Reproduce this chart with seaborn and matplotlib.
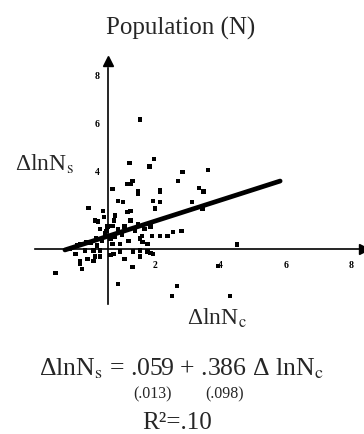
import numpy as np
import pandas as pd
import matplotlib
matplotlib.use("Agg")
import matplotlib.pyplot as plt
import seaborn as sns

# values (change in log population, two regions)
dln_c = [0.154, 0.121, 0.197, 0.182, 0.285, 0.270, 0.362, 0.215, 0.130, 0.124,
         0.148, 0.334, 0.347, 0.069, 0.115, 0.148, 0.215, 0.194, 0.215, 0.200,
         0.087, 0.102, 0.115, 0.124, -0.002, 0.041, 0.017, 0.026, 0.078, 0.032,
         0.053, 0.069, 0.160, 0.191, 0.215, 0.237, 0.255, 0.282, 0.163, 0.176,
         0.344, 0.313, 0.450, 0.392, 0.130, -0.105, -0.023, -0.029, -0.005, 0.017,
         0.087, 0.267, 0.252, 0.429, 0.005, 0.072, 0.093, 0.133, 0.154, 0.176,
         0.194, -0.038, -0.008, 0.023, 0.032, 0.011, 0.047, 0.063, 0.078, 0.087,
         0.099, 0.108, 0.069, 0.038, 0.020, 0.093, 0.118, 0.139, 0.148, 0.124,
         0.056, 0.075, 0.044, 0.154, 0.169, 0.185, -0.060, -0.029, 0.002, -0.014,
         -0.044, 0.032, 0.063, 0.108, 0.154, 0.185, -0.029, 0.011]
dln_s = [0.613, 0.433, 0.450, 0.417, 0.396, 0.358, 0.404, 0.317, 0.358, 0.346,
         0.313, 0.329, 0.313, 0.325, 0.346, 0.304, 0.313, 0.275, 0.271, 0.242,
         0.275, 0.271, 0.229, 0.233, 0.246, 0.233, 0.192, 0.188, 0.213, 0.158,
         0.150, 0.171, 0.129, 0.129, 0.129, 0.129, 0.146, 0.150, 0.104, 0.096,
         0.242, 0.271, 0.092, 0.004, 0.000, -0.025, -0.008, 0.025, 0.033, 0.042,
         -0.071, -0.079, -0.121, -0.121, -0.229, 0.054, 0.063, 0.063, 0.067, 0.063,
         0.054, 0.088, 0.104, 0.088, 0.067, 0.067, 0.138, 0.117, 0.125, 0.158,
         0.133, 0.167, 0.096, 0.108, 0.117, 0.096, 0.108, 0.150, 0.179, 0.192,
         0.167, 0.192, 0.208, 0.117, 0.158, 0.167, 0.075, 0.092, 0.100, 0.067,
         0.054, 0.042, 0.050, 0.033, 0.042, 0.058, 0.013, 0.025]

# fitted line end points as drawn
fit_x = [-0.075, 0.582]
fit_y = [0.071, 0.358]

x_ticks = [0.2, 0.4, 0.6, 0.8]
x_labels = ["2", "4", "6", "8"]
y_ticks = [0.4, 0.6, 0.8]
y_labels = ["4", "6", "8"]

cross_x = 0.0565
cross_y = 0.075

df = pd.DataFrame({"c": dln_c, "s": dln_s})

sns.set_style("white")
plt.rcParams["font.family"] = ["Liberation Serif", "DejaVu Serif"]
plt.rcParams["mathtext.fontset"] = "stix"

fig = plt.figure(figsize=(3.64, 4.35), dpi=100)
ax = fig.add_axes([30 / 364, 125 / 435, 334 / 364, 248 / 435])

sns.scatterplot(data=df, x="c", y="s", ax=ax, marker="s", s=12, color="black",
                edgecolor="none", linewidth=0)
sns.lineplot(x=fit_x, y=fit_y, ax=ax, color="black", linewidth=3.4)

ax.set_xlim(-0.1817, 0.838)
ax.set_ylim(-0.175, 0.858)

# axes crossing inside the plot
for side in ["top", "right"]:
    ax.spines[side].set_visible(False)
ax.spines["left"].set_position(("data", cross_x))
ax.spines["bottom"].set_position(("data", cross_y))
ax.spines["left"].set_bounds(-0.154, 0.83)
ax.spines["bottom"].set_bounds(-0.166, 0.83)
for side in ["left", "bottom"]:
    ax.spines[side].set_color("black")
    ax.spines[side].set_linewidth(1.2)

ax.plot(cross_x, 1, "^", color="black", markersize=7,
        transform=ax.get_xaxis_transform(), clip_on=False)
ax.plot(1, cross_y, ">", color="black", markersize=7,
        transform=ax.get_yaxis_transform(), clip_on=False)

ax.set_xticks(x_ticks, labels=x_labels)
ax.set_yticks(y_ticks, labels=y_labels)
ax.tick_params(axis="x", direction="out", length=7, width=1.2, pad=1,
               labelsize=7, colors="black")
ax.tick_params(axis="y", direction="out", length=4, width=1.2, pad=2,
               labelsize=7, colors="black")
for lab in ax.get_xticklabels() + ax.get_yticklabels():
    lab.set_fontweight("bold")
ax.set_xlabel("")
ax.set_ylabel("")

def ftext(x, y, s, **kw):
    fig.text(x / 364, 1 - y / 435, s, ha="center", va="center", **kw)

ftext(181, 28, "Population (N)", fontsize=18)
ftext(44, 164, r"ΔlnN$_\mathrm{s}$", fontsize=17)
ftext(217, 318, r"ΔlnN$_\mathrm{c}$", fontsize=17)
ftext(181, 369, r"ΔlnN$_\mathrm{s}$ = .059 + .386 Δ lnN$_\mathrm{c}$", fontsize=18.5)
ftext(153, 394, "(.013)", fontsize=11.5)
ftext(225, 394, "(.098)", fontsize=11.5)
ftext(177, 423, "R²=.10", fontsize=18)

fig.savefig("out.png", dpi=100)
